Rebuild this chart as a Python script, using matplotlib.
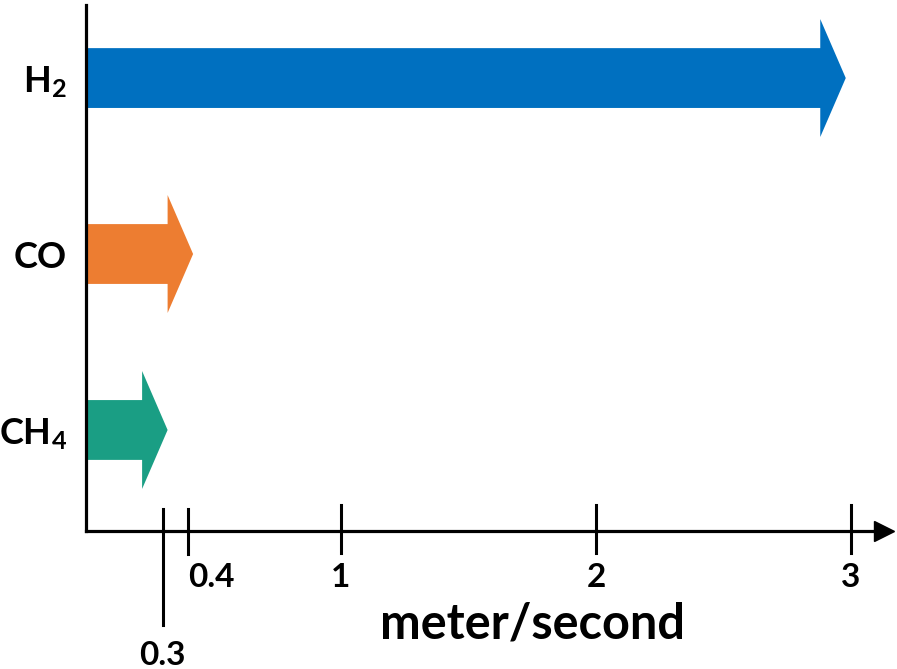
import matplotlib.pyplot as plt
from matplotlib.patches import FancyArrow

# gases and their speed (meter/second)
gases = ["CH$_4$", "CO", "H$_2$"]
speeds = [0.32, 0.42, 2.98]
colors = ["#1A9E84", "#ED7D31", "#0070C0"]

tick_values = [0.3, 0.4, 1, 2, 3]
tick_labels = ["0.3", "0.4", "1", "2", "3"]

plt.rcParams["font.family"] = ["Lato", "DejaVu Sans"]
plt.rcParams["font.weight"] = "bold"
plt.rcParams["mathtext.fontset"] = "custom"
plt.rcParams["mathtext.rm"] = "Lato:bold"
plt.rcParams["mathtext.default"] = "rm"

fig = plt.figure(figsize=(8.97, 6.69), dpi=100)
ax = fig.add_axes([0.0959, 0.2063, 0.8896, 0.7862])
ax.set_xlim(0, 3.13)
ax.set_ylim(-0.574, 2.415)

# one block arrow per gas
for i in range(len(gases)):
    ax.add_patch(FancyArrow(0, i, speeds[i], 0, width=0.34, head_width=0.67,
                            head_length=0.1, length_includes_head=True,
                            color=colors[i], lw=0))

# axes lines
for s in ["top", "right"]:
    ax.spines[s].set_visible(False)
for s in ["left", "bottom"]:
    ax.spines[s].set_linewidth(2.3)
    ax.spines[s].set_zorder(5)
ax.plot(1.0, 0, ">k", ms=14, transform=ax.transAxes, clip_on=False)

# y labels
ax.set_yticks(range(len(gases)), gases)
ax.tick_params(axis="y", length=0, pad=14, labelsize=26)
ax.set_xticks([])

# x ticks crossing the axis, 0.3 hangs down below 0.4
trans = ax.get_xaxis_transform()
for v, lab in zip(tick_values, tick_labels):
    if lab == "0.3":
        ax.plot([v, v], [0.042, -0.179], color="k", lw=2.2, transform=trans, clip_on=False)
        ax.text(v, -0.236, lab, ha="center", va="center", fontsize=24, transform=trans)
    elif lab == "0.4":
        ax.plot([v, v], [0.042, -0.044], color="k", lw=2.2, transform=trans, clip_on=False)
        ax.text(v, -0.089, lab, ha="left", va="center", fontsize=24, transform=trans)
    else:
        ax.plot([v, v], [0.049, -0.042], color="k", lw=2.2, transform=trans, clip_on=False)
        ax.text(v, -0.089, lab, ha="center", va="center", fontsize=24, transform=trans)

fig.text(0.594, 0.046, "meter/second", ha="center", va="baseline", fontsize=35)

fig.savefig("out.png", dpi=100)
